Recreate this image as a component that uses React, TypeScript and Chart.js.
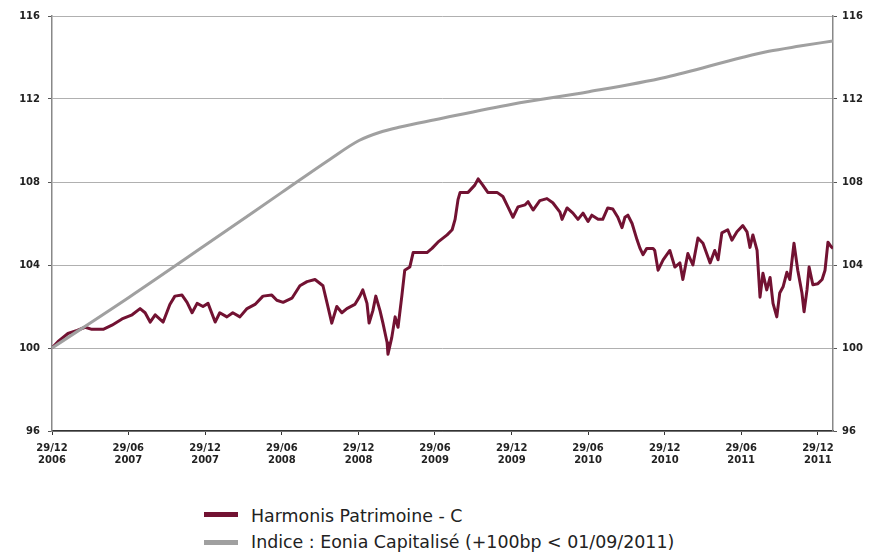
import React, { useEffect, useRef } from "react";
import { Chart, registerables } from "chart.js";

Chart.register(...registerables);

// x values are days elapsed since 29/12/2006
const START_DATE = "29/12/2006";

const tickDays = [0, 182, 365, 548, 731, 913, 1096, 1278, 1461, 1643, 1826];
const tickLabels = [
  "29/12/2006", "29/06/2007", "29/12/2007", "29/06/2008", "29/12/2008",
  "29/06/2009", "29/12/2009", "29/06/2010", "29/12/2010", "29/06/2011", "29/12/2011",
];
const yTicks = [96, 100, 104, 108, 112, 116];
const lastDay = 1862;

const harmonisDays = [
  0, 14, 38, 60, 79, 95, 122, 143, 167, 191, 210, 222, 234, 246, 265, 281, 293, 310, 322, 334,
  346, 360, 372, 389, 400, 417, 431, 448, 465, 484, 503, 524, 536, 551, 572, 591, 608, 627, 646, 656,
  667, 679, 691, 703, 722, 734, 741, 751, 756, 765, 772, 782, 789, 799, 801, 810, 818, 825, 834, 841,
  853, 861, 877, 894, 906, 920, 942, 954, 961, 968, 973, 992, 1008, 1016, 1027, 1039, 1061, 1075, 1087, 1099,
  1111, 1128, 1135, 1147, 1163, 1180, 1194, 1211, 1216, 1228, 1242, 1254, 1266, 1278, 1287, 1302, 1313, 1325, 1337, 1349,
  1359, 1366, 1373, 1383, 1395, 1402, 1409, 1418, 1433, 1437, 1445, 1457, 1473, 1485, 1497, 1504, 1516, 1528, 1540, 1552,
  1569, 1580, 1588, 1597, 1611, 1621, 1633, 1647, 1657, 1664, 1671, 1681, 1688, 1695, 1704, 1712, 1719, 1728, 1735, 1743,
  1752, 1759, 1769, 1778, 1788, 1793, 1800, 1805, 1814, 1826, 1836, 1843, 1850, 1857, 1862,
];
const harmonisValues = [
  100.0, 100.3, 100.7, 100.85, 101.0, 100.9, 100.9, 101.1, 101.4, 101.6, 101.9, 101.7, 101.25, 101.6, 101.25, 102.1, 102.5, 102.55, 102.2, 101.7,
  102.15, 102.0, 102.15, 101.25, 101.7, 101.5, 101.7, 101.5, 101.9, 102.1, 102.5, 102.55, 102.3, 102.2, 102.4, 103.0, 103.2, 103.3, 103.0, 102.15,
  101.2, 102.0, 101.7, 101.9, 102.1, 102.5, 102.8, 102.15, 101.2, 101.8, 102.5, 101.8, 101.2, 100.25, 99.7, 100.5, 101.5, 101.0, 102.5, 103.75,
  103.9, 104.6, 104.6, 104.6, 104.8, 105.1, 105.45, 105.7, 106.2, 107.15, 107.5, 107.5, 107.85, 108.15, 107.85, 107.5, 107.5, 107.3, 106.8, 106.3,
  106.8, 106.9, 107.05, 106.65, 107.1, 107.2, 107.0, 106.55, 106.2, 106.75, 106.5, 106.2, 106.5, 106.1, 106.4, 106.2, 106.2, 106.75, 106.7, 106.3,
  105.8, 106.3, 106.4, 106.0, 105.2, 104.8, 104.5, 104.8, 104.8, 104.7, 103.75, 104.25, 104.7, 103.9, 104.1, 103.3, 104.55, 104.0, 105.3, 105.05,
  104.1, 104.7, 104.25, 105.55, 105.7, 105.2, 105.6, 105.9, 105.6, 104.85, 105.45, 104.7, 102.45, 103.6, 102.8, 103.4, 102.15, 101.5, 102.65, 102.95,
  103.65, 103.3, 105.05, 103.75, 102.65, 101.75, 102.8, 103.9, 103.05, 103.1, 103.3, 103.75, 105.1, 104.9, 104.8,
];

const eoniaDays = [0, 184, 365, 548, 663, 732, 782, 830, 913, 1097, 1280, 1464, 1645, 1709, 1783, 1862];
const eoniaValues = [100, 102.45, 104.95, 107.5, 109.1, 110.0, 110.4, 110.65, 111.0, 111.75, 112.35, 113.05, 114.0, 114.3, 114.55, 114.8];

const seriesNames = ["Harmonis Patrimoine - C", "Indice : Eonia Capitalisé (+100bp < 01/09/2011)"];
const seriesColors = ["#721232", "#a0a0a0"];

const tickFont = { family: "'DejaVu Sans', Verdana, sans-serif", size: 10, weight: "bold" as const };

export default function App() {
  const ref = useRef<HTMLCanvasElement | null>(null);

  useEffect(() => {
    if (!ref.current) return;
    const chart = new Chart(ref.current, {
      type: "line",
      data: {
        datasets: [
          {
            label: seriesNames[1],
            data: eoniaDays.map((d, i) => ({ x: d, y: eoniaValues[i] })),
            borderColor: seriesColors[1],
            backgroundColor: seriesColors[1],
            borderWidth: 3,
            pointRadius: 0,
            cubicInterpolationMode: "monotone",
            order: 0,
          },
          {
            label: seriesNames[0],
            data: harmonisDays.map((d, i) => ({ x: d, y: harmonisValues[i] })),
            borderColor: seriesColors[0],
            backgroundColor: seriesColors[0],
            borderWidth: 3,
            pointRadius: 0,
            tension: 0,
            borderJoinStyle: "round",
            order: 1,
          },
        ],
      },
      options: {
        responsive: false,
        animation: false,
        devicePixelRatio: 1,
        layout: { padding: { top: 16, left: 0, right: 0, bottom: 0 } },
        plugins: { legend: { display: false }, tooltip: { enabled: false } },
        scales: {
          x: {
            type: "linear",
            min: 0,
            max: lastDay,
            afterBuildTicks: (s: any) => {
              s.ticks = tickDays.map((v) => ({ value: v }));
            },
            afterFit: (s: any) => {
              s.height = 49;
            },
            ticks: {
              autoSkip: false,
              maxRotation: 0,
              padding: 7,
              color: "#222",
              font: tickFont,
              callback: (_v: any, i: number) => {
                const t = tickLabels[i] || "";
                return [t.slice(0, 5), t.slice(6)];
              },
            },
            grid: { drawOnChartArea: false, drawTicks: true, tickLength: 4, tickColor: "#333", lineWidth: 1 },
            border: { display: true, color: "#333", width: 1.5 },
          },
          y: {
            type: "linear",
            position: "left",
            min: 96,
            max: 116,
            afterBuildTicks: (s: any) => {
              s.ticks = yTicks.map((v) => ({ value: v }));
            },
            afterFit: (s: any) => {
              s.width = 52;
            },
            ticks: { padding: 8, color: "#222", font: tickFont },
            grid: { color: "#b0b0b0", lineWidth: 1, tickLength: 4, tickColor: "#555" },
            border: { display: true, color: "#888", width: 1.5 },
          },
          y2: {
            type: "linear",
            position: "right",
            min: 96,
            max: 116,
            afterBuildTicks: (s: any) => {
              s.ticks = yTicks.map((v) => ({ value: v }));
            },
            afterFit: (s: any) => {
              s.width = 39;
            },
            ticks: { padding: 5, color: "#222", font: tickFont },
            grid: { drawOnChartArea: false, tickLength: 4, tickColor: "#555" },
            border: { display: true, color: "#888", width: 1.5 },
          },
        },
      },
    });
    return () => chart.destroy();
  }, []);

  const legendText: React.CSSProperties = {
    position: "absolute",
    left: 251,
    fontFamily: "'DejaVu Sans', Verdana, sans-serif",
    fontSize: 17.4,
    lineHeight: "20px",
    color: "#222",
    whiteSpace: "nowrap",
  };

  return (
    <div style={{ position: "absolute", left: 0, top: 0, width: 872, height: 552, background: "#fff" }}>
      <canvas ref={ref} width={872} height={480} style={{ position: "absolute", left: 0, top: 0 }} title={"Base 100 au " + START_DATE} />
      <div style={{ position: "absolute", left: 204, top: 512, width: 34, height: 5, background: seriesColors[0] }} />
      <div style={{ ...legendText, top: 506 }}>{seriesNames[0]}</div>
      <div style={{ position: "absolute", left: 204, top: 540, width: 34, height: 5, background: seriesColors[1] }} />
      <div style={{ ...legendText, top: 531.5 }}>{seriesNames[1]}</div>
    </div>
  );
}
